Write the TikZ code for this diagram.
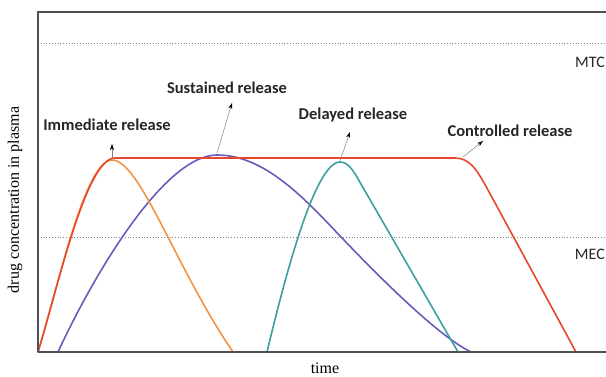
\documentclass[tikz,border=0pt]{standalone}
\usepackage{fontspec}
\setmainfont{Liberation Serif}
\newfontfamily\labelfont{Carlito}
\usetikzlibrary{arrows.meta, positioning}
\definecolor{crred}{HTML}{E8472D}
\definecolor{irorange}{HTML}{F29441}
\definecolor{srpurple}{HTML}{6A5BBA}
\definecolor{drteal}{HTML}{3E9EA0}
\definecolor{axisgray}{HTML}{505050}
\tikzstyle{frame} = [draw=axisgray, line width=1.4pt]
\tikzstyle{level} = [draw=gray, line width=1pt, dash pattern=on 1pt off 1.8pt]
\tikzstyle{curve} = [line width=1.6pt, line join=round, line cap=round]
\tikzstyle{release} = [font=\labelfont\bfseries\fontsize{16.5}{18}\selectfont, text=black!85, inner sep=0pt]
\tikzstyle{limit} = [font=\labelfont\fontsize{16}{18}\selectfont, text=black!85, inner sep=0pt, anchor=east]
\tikzstyle{axislabel} = [font=\fontsize{16}{18}\selectfont, inner sep=0pt]
\tikzstyle{pointer} = [draw=gray, line width=0.5pt, -{Stealth[length=6pt,width=4pt,color=black]}]

\begin{document}
\begin{tikzpicture}[x=1pt, y=1pt]
        \useasboundingbox (0,0) rectangle (606,377);
        \clip (0,0) rectangle (606,377);

        \coordinate (origin) at (38,25);
        \coordinate (topleft) at (38,365);
        \coordinate (topright) at (610,365);
        \coordinate (axisend) at (610,25);
        \coordinate (mtcstart) at (38,333);
        \coordinate (mtcend) at (610,333);
        \coordinate (mecstart) at (38,139);
        \coordinate (mecend) at (610,139);

        \node (mtc) [limit] at (605,315) {MTC};
        \node (mec) [limit] at (605,123) {MEC};
        \node (ylabel) [axislabel, rotate=90] at (15,177) {drug concentration in plasma};
        \node (xlabel) [axislabel] at (325,9) {time};

        \node (immediate) [release] at (107,252) {Immediate release};
        \node (sustained) [release] at (227,289) {Sustained release};
        \node (delayed) [release] at (353,262) {Delayed release};
        \node (controlled) [release] at (510,246) {Controlled release};

        % tips and feet of the little pointers
        \coordinate (ipeak) at (112,219);
        \coordinate (itip) at (112,233);
        \coordinate (speak) at (217,224);
        \coordinate (stip) at (232,274);
        \coordinate (dpeak) at (340,216);
        \coordinate (dtip) at (350,245);
        \coordinate (cbend) at (463,220);
        \coordinate (ctip) at (483,236);

        \draw [level] (mtcstart) -- (mtcend);
        \draw [level] (mecstart) -- (mecend);

        \draw [curve, srpurple] (58,25) .. controls (95,105) and (165,222) .. (217,222)
            .. controls (265,222) and (305,178) .. (342,139)
            .. controls (385,94) and (440,40) .. (471,25);
        \draw [curve, drteal] (267,25) .. controls (285,100) and (315,215) .. (340,215)
            .. controls (350,215) and (355,203) .. (365,186) -- (458,25);
        \draw [curve, irorange] (origin) .. controls (58,90) and (85,217) .. (112,217)
            .. controls (140,217) and (175,110) .. (233,25);
        \draw [curve, crred] (origin) .. controls (58,90) and (86,219) .. (115,219)
            -- (455,219) .. controls (470,219) and (477,207) .. (488,187) -- (576,25);

        \draw [frame] (topright) -- (topleft) -- (origin);
        \draw [frame, line width=1.8pt] (origin) -- (axisend);

        \draw [pointer] (ipeak) -- (itip);
        \draw [pointer] (speak) -- (stip);
        \draw [pointer] (dpeak) -- (dtip);
        \draw [pointer] (cbend) -- (ctip);
\end{tikzpicture}
\end{document}
